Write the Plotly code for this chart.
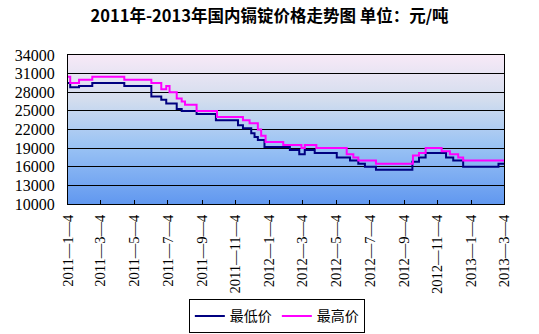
import base64
import plotly.graph_objects as go

# ---- data ----
low_dates = ["2011-01-04", "2011-01-08", "2011-01-24", "2011-02-17", "2011-04-16", "2011-06-04",
             "2011-06-22", "2011-07-01", "2011-07-20", "2011-07-29", "2011-08-25", "2011-09-29",
             "2011-11-08", "2011-11-17", "2011-12-02", "2011-12-08", "2011-12-14", "2011-12-26",
             "2012-02-10", "2012-02-27", "2012-03-08", "2012-03-26", "2012-05-05", "2012-05-29",
             "2012-06-13", "2012-06-25", "2012-07-15", "2012-09-19", "2012-10-01", "2012-10-13",
             "2012-11-19", "2012-12-02", "2012-12-20", "2013-02-22", "2013-03-04"]
low_values = [29500, 28800, 29000, 29500, 29000, 27300,
              26800, 26200, 25300, 25000, 24500, 23500,
              22700, 22200, 21400, 20800, 20300, 19200,
              18700, 18000, 18700, 18200, 17500, 17000,
              16500, 16000, 15500, 16800, 17500, 18200,
              17500, 17000, 16000, 16500, 16500]

high_dates = ["2011-01-04", "2011-01-08", "2011-01-24", "2011-02-17", "2011-04-16", "2011-06-04",
              "2011-06-22", "2011-07-01", "2011-07-07", "2011-07-20", "2011-07-29", "2011-08-04",
              "2011-08-25", "2011-10-01", "2011-11-17", "2011-11-29", "2011-12-14", "2011-12-20",
              "2011-12-28", "2012-01-29", "2012-03-02", "2012-03-08", "2012-03-29", "2012-05-23",
              "2012-06-04", "2012-06-13", "2012-07-15", "2012-09-20", "2012-10-01", "2012-10-13",
              "2012-11-11", "2012-11-26", "2012-12-11", "2012-12-20", "2013-03-04"]
high_values = [30500, 29500, 30000, 30500, 30000, 29500,
               28500, 29000, 28000, 27000, 26500, 26000,
               25000, 24000, 23500, 23000, 22000, 21000,
               20000, 19500, 19000, 19500, 19000, 18000,
               17500, 17000, 16500, 17800, 18200, 19000,
               18500, 18000, 17500, 17000, 17000]

tick_dates = ["2011-01-04", "2011-03-04", "2011-05-04", "2011-07-04", "2011-09-04", "2011-11-04",
              "2012-01-04", "2012-03-04", "2012-05-04", "2012-07-04", "2012-09-04", "2012-11-04",
              "2013-01-04", "2013-03-04"]
tick_labels = ["2011—1—4", "2011—3—4", "2011—5—4", "2011—7—4", "2011—9—4", "2011—11—4",
               "2012—1—4", "2012—3—4", "2012—5—4", "2012—7—4", "2012—9—4", "2012—11—4",
               "2013—1—4", "2013—3—4"]
y_ticks = [10000, 13000, 16000, 19000, 22000, 25000, 28000, 31000, 34000]
y_labels = [str(v) for v in y_ticks]

title_text = "2011年-2013年国内镉锭价格走势图 单位：元/吨"

# ---- background gradient (styling) ----
svg = ('<svg xmlns="http://www.w3.org/2000/svg" width="100" height="100" preserveAspectRatio="none">'
       '<defs><linearGradient id="g" x1="0" y1="0" x2="0" y2="1">'
       '<stop offset="0" stop-color="#f7e9f7"/>'
       '<stop offset="0.3" stop-color="#d3ddee"/>'
       '<stop offset="0.6" stop-color="#9cc4f4"/>'
       '<stop offset="1" stop-color="#6198f0"/>'
       '</linearGradient></defs><rect width="100" height="100" fill="url(#g)"/></svg>')
bg_src = "data:image/svg+xml;base64," + base64.b64encode(svg.encode()).decode()

fig = go.Figure()
fig.add_trace(go.Scatter(x=low_dates, y=low_values, mode="lines", name="最低价",
                         line=dict(color="#000080", width=2, shape="hv")))
fig.add_trace(go.Scatter(x=high_dates, y=high_values, mode="lines", name="最高价",
                         line=dict(color="#ff00ff", width=2, shape="hv")))

fig.update_layout(
    width=539, height=334,
    margin=dict(l=68, r=35, t=55, b=130, autoexpand=False),
    paper_bgcolor="white",
    plot_bgcolor="rgba(0,0,0,0)",
    title=dict(text=title_text, x=0.5, xanchor="center", y=1 - 16 / 334, yanchor="middle",
               font=dict(family="Noto Sans CJK SC", size=16.5, color="black", weight="bold")),
    images=[dict(source=bg_src, xref="paper", yref="paper", x=0, y=1, sizex=1, sizey=1,
                 xanchor="left", yanchor="top", sizing="stretch", layer="below")],
    xaxis=dict(type="date", range=["2011-01-04", "2013-03-04"],
               tickmode="array", tickvals=tick_dates, ticktext=tick_labels,
               tickangle=-90, ticks="inside", ticklen=4, tickcolor="black",
               ticklabelstandoff=4,
               tickfont=dict(family="Liberation Serif", size=14.5, color="black"),
               showgrid=False, showline=True, linecolor="black", linewidth=1, mirror=True,
               zeroline=False, automargin=False),
    yaxis=dict(range=[10000, 34000], tickmode="array", tickvals=y_ticks, ticktext=y_labels,
               ticks="", ticklabelstandoff=9,
               tickfont=dict(family="Liberation Serif", size=16, color="black"),
               showgrid=True, gridcolor="black", gridwidth=1,
               showline=True, linecolor="black", linewidth=1, mirror=True, zeroline=False,
               automargin=False),
    showlegend=True,
    legend=dict(orientation="h", x=0.479, xanchor="center", y=-0.64, yanchor="top",
                bordercolor="black", borderwidth=1, bgcolor="white",
                font=dict(family="Noto Sans CJK SC", size=14, color="black"),
                itemwidth=30, tracegroupgap=0),
)

fig.write_html("out.html")
